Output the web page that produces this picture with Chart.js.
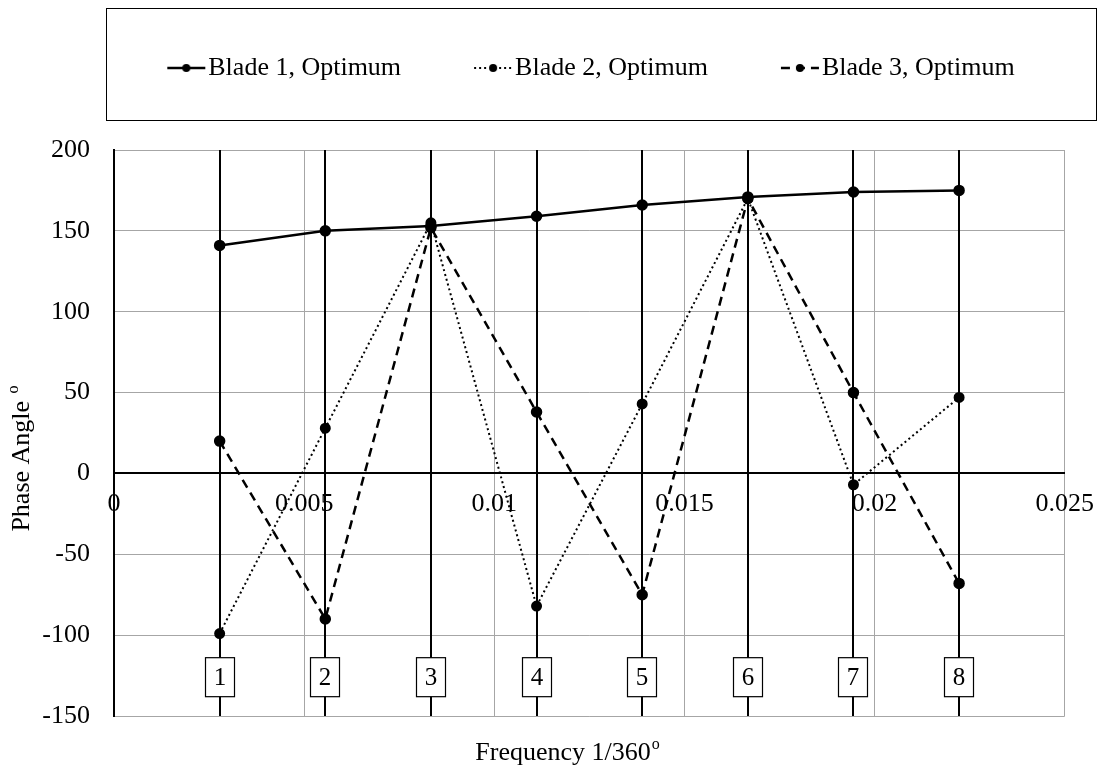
<!DOCTYPE html>
<html>
<head>
<meta charset="utf-8">
<script src="https://cdn.jsdelivr.net/npm/chart.js@4.4.1/dist/chart.umd.min.js"></script>
<style>
  body { margin: 0; background: #fff; }
</style>
</head>
<body>
<canvas id="chart" width="1109" height="771"></canvas>
<script>
// frequencies (1/360 steps) and phase angles
const frequency = [0.002778, 0.005556, 0.008333, 0.011111, 0.013889, 0.016667, 0.019444, 0.022222];
const blade1 = [141, 150, 153, 159, 166, 171, 174, 175];
const blade2 = [-99, 28, 155, -82, 43, 170, -7, 47];
const blade3 = [20, -90, 152, 38, -75, 170, 50, -68];
const seriesNames = ['Blade 1, Optimum', 'Blade 2, Optimum', 'Blade 3, Optimum'];
const markerLabels = ['1', '2', '3', '4', '5', '6', '7', '8'];
const xTicks = [0, 0.005, 0.01, 0.015, 0.02, 0.025];
const yTicks = [-150, -100, -50, 0, 50, 100, 150, 200];

const FONT = "'Liberation Serif', 'Times New Roman', serif";
Chart.defaults.font.family = FONT;
Chart.defaults.font.size = 26;
Chart.defaults.color = '#000';

function points(values) {
    return frequency.map((f, i) => ({ x: f, y: values[i] }));
}

// little line+dot pictures for the legend
function makeSample(dash, width) {
    const c = document.createElement('canvas');
    c.width = 123;
    c.height = 12;
    const g = c.getContext('2d');
    g.strokeStyle = '#000';
    g.lineWidth = width;
    g.setLineDash(dash);
    g.beginPath();
    g.moveTo(83, 6);
    g.lineTo(121, 6);
    g.stroke();
    g.setLineDash([]);
    g.fillStyle = '#000';
    g.beginPath();
    g.arc(102, 6, 4, 0, Math.PI * 2);
    g.fill();
    return c;
}
const legendSamples = [makeSample([], 2.5), makeSample([2, 3], 2), makeSample([9, 6], 2.5)];

const legendGap = {
    id: 'legendGap',
    beforeInit(chart) {
        const fit = chart.legend.fit;
        chart.legend.fit = function () {
            fit.call(this);
            this.height += 59;
        };
    }
};

const markerLines = {
    id: 'markerLines',
    beforeDatasetsDraw(chart) {
        const { ctx, scales: { x, y } } = chart;
        ctx.save();
        ctx.strokeStyle = '#000';
        ctx.lineWidth = 2;
        frequency.forEach(f => {
            const px = Math.round(x.getPixelForValue(f));
            ctx.beginPath();
            ctx.moveTo(px, y.getPixelForValue(yTicks[yTicks.length - 1]));
            ctx.lineTo(px, y.getPixelForValue(yTicks[0]));
            ctx.stroke();
        });
        ctx.restore();
    },
    afterDatasetsDraw(chart) {
        const { ctx, scales: { x, y } } = chart;
        const cy = y.getPixelForValue(-126);
        ctx.save();
        ctx.font = '25px ' + FONT;
        ctx.textAlign = 'center';
        ctx.textBaseline = 'middle';
        frequency.forEach((f, i) => {
            const px = Math.round(x.getPixelForValue(f));
            ctx.fillStyle = '#fff';
            ctx.fillRect(px - 14.5, cy - 19.5, 29, 39);
            ctx.strokeStyle = '#000';
            ctx.lineWidth = 1.2;
            ctx.strokeRect(px - 14.5, cy - 19.5, 29, 39);
            ctx.fillStyle = '#000';
            ctx.fillText(markerLabels[i], px, cy + 1);
        });
        ctx.restore();
    }
};

function drawSup(ctx, main, cx, cy) {
    ctx.font = '26px ' + FONT;
    const w1 = ctx.measureText(main).width;
    ctx.font = '16px ' + FONT;
    const w2 = ctx.measureText('o').width;
    const start = cx - (w1 + w2) / 2;
    ctx.textAlign = 'left';
    ctx.textBaseline = 'middle';
    ctx.font = '26px ' + FONT;
    ctx.fillText(main, start, cy);
    ctx.font = '16px ' + FONT;
    ctx.fillText('o', start + w1 + 1, cy - 8);
}

const decorations = {
    id: 'decorations',
    afterDraw(chart) {
        const ctx = chart.ctx;
        ctx.save();
        ctx.fillStyle = '#000';
        drawSup(ctx, 'Frequency 1/360', 567, 753);
        ctx.translate(22, 459);
        ctx.rotate(-Math.PI / 2);
        drawSup(ctx, 'Phase Angle ', 0, 0);
        ctx.restore();

        // frame round the legend
        ctx.save();
        ctx.strokeStyle = '#000';
        ctx.lineWidth = 1;
        ctx.strokeRect(106.5, 8.5, 990, 112);
        ctx.restore();
    }
};

new Chart(document.getElementById('chart'), {
    type: 'line',
    data: {
        datasets: [{
            label: seriesNames[0],
            data: points(blade1),
            borderColor: '#000',
            backgroundColor: '#000',
            borderWidth: 2.5,
            pointRadius: 4.5,
            tension: 0
        }, {
            label: seriesNames[1],
            data: points(blade2),
            borderColor: '#000',
            backgroundColor: '#000',
            borderWidth: 2,
            borderDash: [2, 3],
            pointRadius: 4.5,
            tension: 0
        }, {
            label: seriesNames[2],
            data: points(blade3),
            borderColor: '#000',
            backgroundColor: '#000',
            borderWidth: 2.5,
            borderDash: [9, 6],
            pointRadius: 4.5,
            tension: 0
        }]
    },
    options: {
        responsive: false,
        animation: false,
        events: [],
        layout: { padding: { top: 53, left: 40, right: 38, bottom: 55 } },
        scales: {
            x: {
                type: 'linear',
                position: { y: 0 },
                min: xTicks[0],
                max: xTicks[xTicks.length - 1],
                afterBuildTicks: s => { s.ticks = xTicks.map(v => ({ value: v })); },
                grid: { color: '#a6a6a6', lineWidth: 1, drawTicks: false },
                border: { color: '#000', width: 2 },
                ticks: {
                    padding: 15,
                    maxRotation: 0,
                    font: { size: 26 },
                    callback: v => String(+Number(v).toFixed(3))
                }
            },
            y: {
                type: 'linear',
                min: yTicks[0],
                max: yTicks[yTicks.length - 1],
                afterBuildTicks: s => { s.ticks = yTicks.map(v => ({ value: v })); },
                afterFit: s => { s.width = 74; },
                grid: { color: '#a6a6a6', lineWidth: 1, drawTicks: false },
                border: { color: '#000', width: 2 },
                ticks: { padding: 24, font: { size: 26 } }
            }
        },
        plugins: {
            tooltip: { enabled: false },
            legend: {
                position: 'top',
                labels: {
                    usePointStyle: true,
                    pointStyleWidth: 99,
                    padding: 2,
                    color: '#000',
                    font: { size: 26 },
                    generateLabels(chart) {
                        const items = Chart.defaults.plugins.legend.labels.generateLabels(chart);
                        items.forEach((it, i) => { it.pointStyle = legendSamples[i]; });
                        return items;
                    }
                }
            }
        }
    },
    plugins: [legendGap, markerLines, decorations]
});
</script>
</body>
</html>
